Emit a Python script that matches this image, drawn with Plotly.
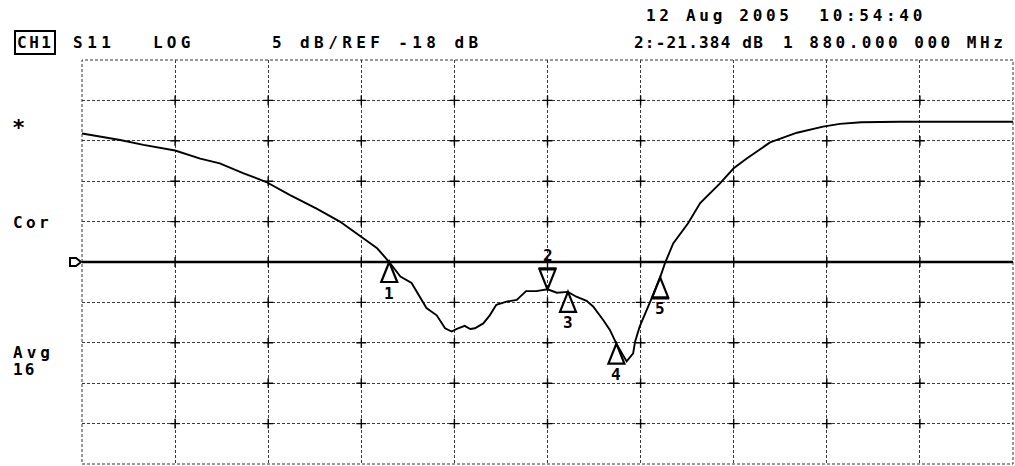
import plotly.graph_objects as go

# Network analyser S11 sweep (log magnitude, 5 dB/div, REF -18 dB)
freq_mhz = [1380, 1403, 1421, 1446, 1480, 1507, 1528, 1553, 1578, 1603, 1632, 1657,
            1680, 1697, 1710, 1722, 1734, 1743, 1750, 1761, 1770, 1777, 1782, 1791,
            1797, 1802, 1811, 1818, 1825, 1836, 1847, 1857, 1868, 1880, 1890, 1902,
            1911, 1922, 1929, 1940, 1947, 1954, 1965, 1972, 1974, 1979, 1985, 1994,
            2001, 2006, 2015, 2031, 2044, 2065, 2080, 2094, 2119, 2148, 2176, 2194,
            2217, 2258, 2380]
s11_db = [-2.1, -2.5, -2.9, -3.5, -4.2, -5.2, -5.8, -7.0, -8.1, -9.7, -11.4, -13.0,
          -14.9, -16.3, -18.0, -19.8, -20.6, -22.3, -23.7, -24.6, -26.2, -26.6, -26.3, -25.9,
          -26.3, -26.2, -25.6, -24.6, -23.3, -22.9, -22.7, -21.6, -21.6, -21.384, -21.8, -21.7,
          -22.3, -22.8, -23.5, -25.2, -26.4, -28.1, -30.3, -29.3, -27.9, -26.0, -24.4, -21.9,
          -19.9, -18.2, -15.7, -13.2, -10.7, -8.3, -6.4, -5.2, -3.2, -2.0, -1.25, -0.9,
          -0.7, -0.65, -0.65]

marker_ids = ["1", "2", "3", "4", "5"]
marker_freq = [1710, 1880, 1902, 1954, 2001]
marker_db = [-18.0, -21.384, -21.7, -28.1, -19.9]
active_marker = "2"

start_mhz, stop_mhz = 1380, 2380
ref_db, db_per_div, n_div = -18, 5, 10

W, H = 1015, 466
ML, MR, MT, MB = 82, 2, 60, 2
FONT = "DejaVu Sans Mono"
TXT = dict(family=FONT, size=16, color="black", weight="bold")


def paper_x(px):
    return (px - ML) / (W - ML - MR)


def paper_y(py):
    return (H - MB - py) / (H - MT - MB)


def text_label(text, x, y, spacing=3.7, size=16, **kw):
    d = dict(text=f'<span style="letter-spacing:{spacing}px">{text}</span>',
             xref="paper", yref="paper", x=paper_x(x), y=paper_y(y),
             xanchor="left", yanchor="middle", showarrow=False,
             font=dict(TXT, size=size), borderpad=0)
    d.update(kw)
    return d


y_top = ref_db + db_per_div * n_div / 2
y_bot = ref_db - db_per_div * n_div / 2
x_div = (stop_mhz - start_mhz) / n_div

fig = go.Figure()

# small crosses at interior graticule intersections
gx = [start_mhz + i * x_div for i in range(1, n_div)]
gy = [y_bot + j * db_per_div for j in range(1, n_div)]
fig.add_trace(go.Scatter(
    x=[a for a in gx for _ in gy], y=[b for _ in gx for b in gy],
    mode="markers", hoverinfo="skip",
    marker=dict(symbol="cross-thin", size=7, line=dict(width=1.4, color="black")),
))

fig.add_trace(go.Scatter(
    x=freq_mhz, y=s11_db, mode="lines", hoverinfo="skip",
    line=dict(color="black", width=1.9),
))

shapes = []
# outer frame
shapes.append(dict(type="rect", xref="paper", yref="paper", x0=0, x1=1, y0=0, y1=1,
                   line=dict(color="#333", width=1, dash="3px,2px")))
# reference level line
shapes.append(dict(type="line", xref="paper", yref="y", x0=0, x1=1, y0=ref_db, y1=ref_db,
                   line=dict(color="black", width=2.6)))
# reference pointer left of the graticule
shapes.append(dict(type="path", xref="paper", yref="y", xsizemode="pixel", ysizemode="pixel",
                   xanchor=0, yanchor=ref_db,
                   path="M-12,-4 L-6,-4 L-1,0 L-6,4 L-12,4 Z",
                   fillcolor="white", line=dict(color="black", width=2)))

annotations = []
for mid, mf, mv in zip(marker_ids, marker_freq, marker_db):
    if mid == active_marker:
        shapes.append(dict(type="path", xref="x", yref="y", xsizemode="pixel",
                           ysizemode="pixel", xanchor=mf, yanchor=mv,
                           path="M0,0 L-8,20 L8,20 Z M-9,21 L9,21",
                           line=dict(color="black", width=2.2)))
        annotations.append(dict(text=mid, x=mf, y=mv, xref="x", yref="y", yshift=34,
                                showarrow=False, font=TXT))
    else:
        extra = " M-9,-21 L9,-21" if mid == "5" else ""
        shapes.append(dict(type="path", xref="x", yref="y", xsizemode="pixel",
                           ysizemode="pixel", xanchor=mf, yanchor=mv,
                           path="M0,0 L-8,-20 L8,-20 Z" + extra,
                           line=dict(color="black", width=2.2)))
        annotations.append(dict(text=mid, x=mf, y=mv, xref="x", yref="y", yshift=-31,
                                showarrow=False, font=TXT))

# header and status texts
annotations += [
    text_label("12 Aug 2005  10:54:40", 645, 16, spacing=3.7),
    text_label("CH1", 14, 43, spacing=2.5, bordercolor="black", borderwidth=2, borderpad=1),
    text_label("S11", 72, 43, spacing=4.5),
    text_label("LOG", 152, 43, spacing=4.2),
    text_label("5 dB/REF -18 dB", 271, 43, spacing=4.4),
    text_label("2:-21.384 dB", 633, 43, spacing=1.2),
    text_label("1 880.000 000 MHz", 782, 43, spacing=3.5),
    text_label("*", 11, 127, spacing=0, size=22),
    text_label("Cor", 12, 222, spacing=3.4),
    text_label("Avg", 12, 352, spacing=4.0),
    text_label("16", 12, 369, spacing=2.0),
]

axis_common = dict(showticklabels=False, ticks="", zeroline=False, showline=False,
                   showgrid=True, gridcolor="#3a3a3a", gridwidth=1, griddash="3px,2px")

fig.update_layout(
    width=W, height=H, margin=dict(l=ML, r=MR, t=MT, b=MB),
    paper_bgcolor="white", plot_bgcolor="white", showlegend=False,
    xaxis=dict(range=[start_mhz, stop_mhz], tick0=start_mhz, dtick=x_div, **axis_common),
    yaxis=dict(range=[y_bot, y_top], tick0=y_bot, dtick=db_per_div, **axis_common),
    shapes=shapes, annotations=annotations,
)

fig.write_html("out.html")
